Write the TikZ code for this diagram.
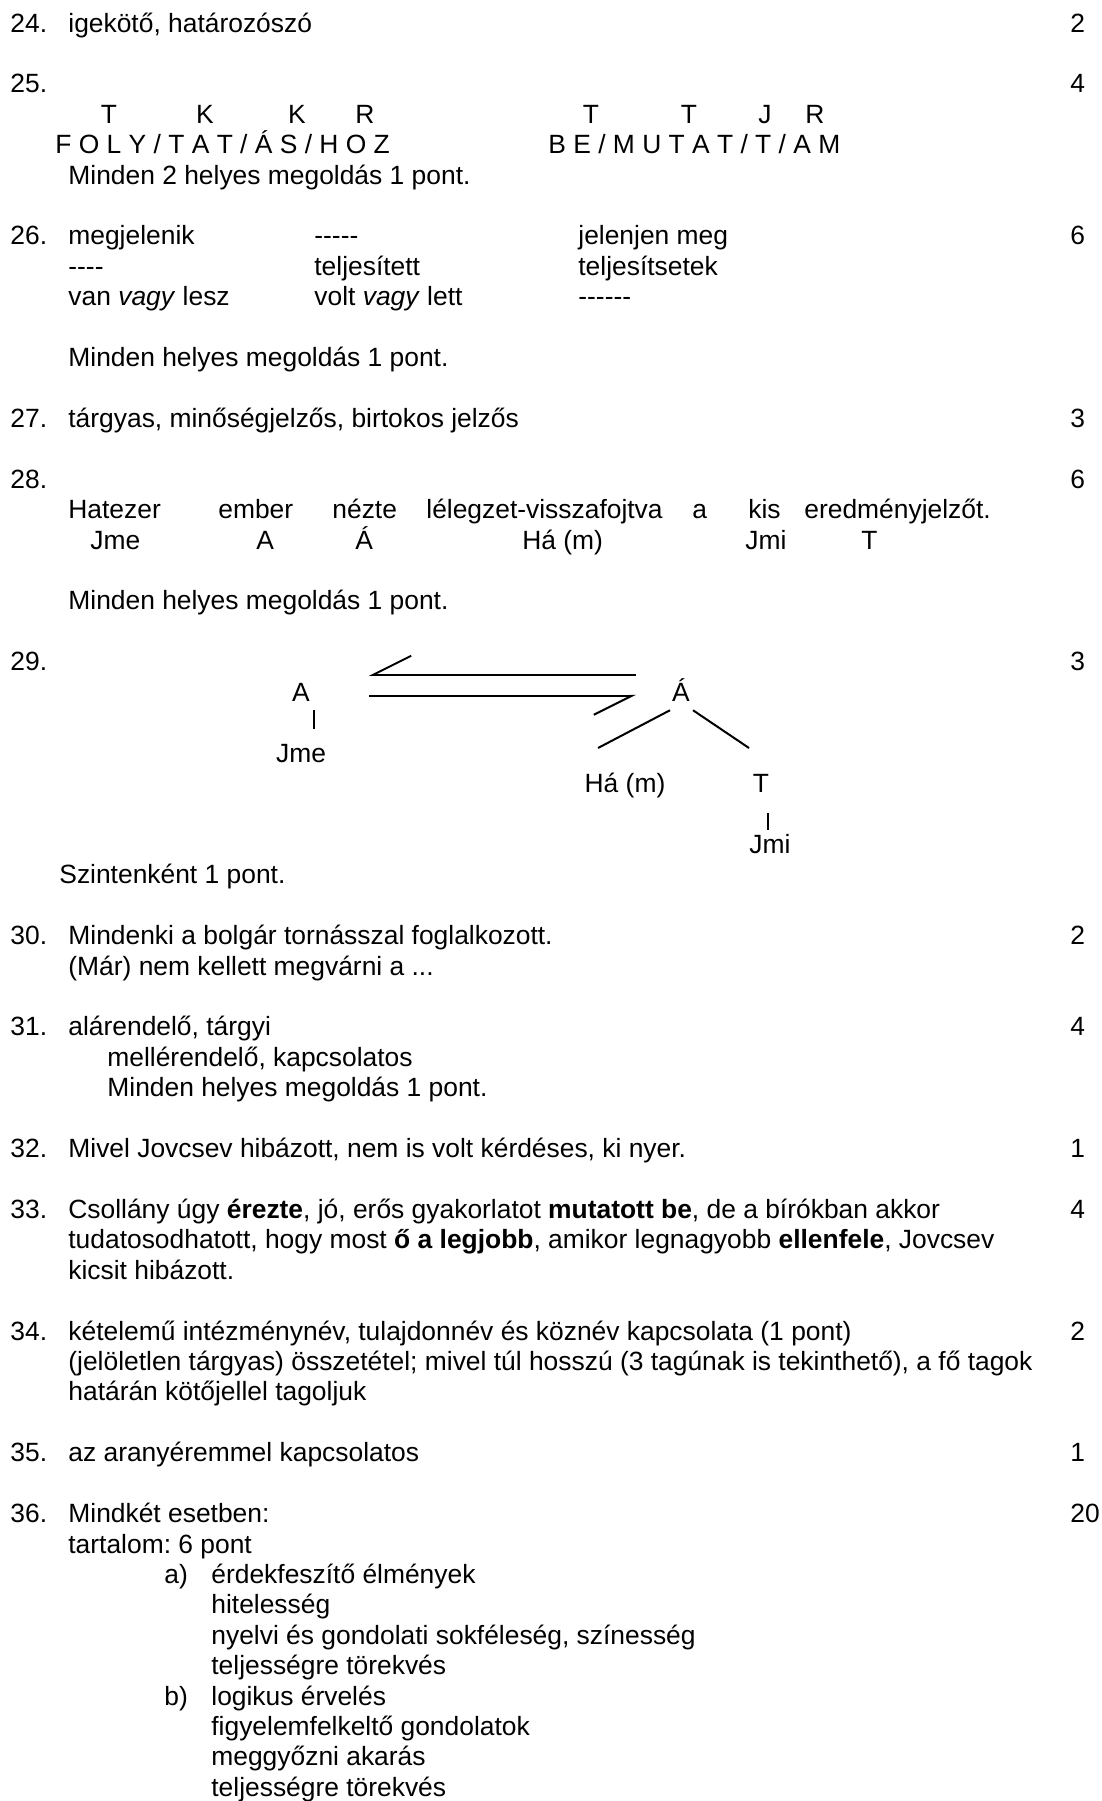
\documentclass[tikz,border=0pt]{standalone}
\usepackage{fontspec}
\setmainfont{Liberation Sans}
\usetikzlibrary{arrows.meta}
\frenchspacing
\tikzset{
x=0.5pt, y=-0.5pt, % one unit is one pixel of the page, y runs downwards
every node/.style={inner sep=0pt, font=\fontsize{13.2}{15.8}\selectfont}, % plain text everywhere
txt/.style={anchor=base west}, % text set from its left end on the baseline
lbl/.style={anchor=base}, % centred labels (grammar marks)
branch/.style={line width=1pt}, % lines of the sentence tree
harpoon/.style={line width=1pt, -{Straight Barb[right, length=19pt, width=19pt]}}, % half arrow
}
\def\lh{30.42}

\begin{document}
\begin{tikzpicture}
            \useasboundingbox (0,0) rectangle (1102,1801);
            % 24
            \node[txt] (n24) at (10,32) {24.};
            \node[txt] (a24) at (68,32) {igekötő, határozószó};
            \node[txt] (p24) at (1070,32) {2};
            % 25
            \node[txt] (n25) at (10,32+2*\lh) {25.};
            \node[txt] (p25) at (1070,32+2*\lh) {4};
            \node[lbl] (foT) at (109,32+3*\lh) {T};
            \node[lbl] (foK1) at (205,32+3*\lh) {K};
            \node[lbl] (foK2) at (297,32+3*\lh) {K};
            \node[lbl] (foR) at (365,32+3*\lh) {R};
            \node[lbl] (beT1) at (591,32+3*\lh) {T};
            \node[lbl] (beT2) at (689,32+3*\lh) {T};
            \node[lbl] (beJ) at (765,32+3*\lh) {J};
            \node[lbl] (beR) at (815,32+3*\lh) {R};
            \node[txt] (foly) at (55,32+4*\lh) {F O L Y / T A T / Á S / H O Z};
            \node[txt] (bemutat) at (548,32+4*\lh) {B E / M U T A T / T / A M};
            \node[txt] (m25) at (68,32+5*\lh) {Minden 2 helyes megoldás 1 pont.};
            % 26
            \node[txt] (n26) at (10,32+7*\lh) {26.};
            \node[txt] (p26) at (1070,32+7*\lh) {6};
            \node[txt] (a26) at (68,32+7*\lh) {megjelenik};
            \node[txt] (b26) at (314,32+7*\lh) {-{}-{}-{}-{}-};
            \node[txt] (c26) at (578,32+7*\lh) {jelenjen meg};
            \node[txt] (d26) at (68,32+8*\lh) {-{}-{}-{}-};
            \node[txt] (e26) at (314,32+8*\lh) {teljesített};
            \node[txt] (f26) at (578,32+8*\lh) {teljesítsetek};
            \node[txt] (g26) at (68,32+9*\lh) {van \textit{vagy} lesz};
            \node[txt] (h26) at (314,32+9*\lh) {volt \textit{vagy} lett};
            \node[txt] (i26) at (578,32+9*\lh) {-{}-{}-{}-{}-{}-};
            \node[txt] (m26) at (68,32+11*\lh) {Minden helyes megoldás 1 pont.};
            % 27
            \node[txt] (n27) at (10,32+13*\lh) {27.};
            \node[txt] (a27) at (68,32+13*\lh) {tárgyas, minőségjelzős, birtokos jelzős};
            \node[txt] (p27) at (1070,32+13*\lh) {3};
            % 28
            \node[txt] (n28) at (10,32+15*\lh) {28.};
            \node[txt] (p28) at (1070,32+15*\lh) {6};
            \node[txt] (w1) at (68,32+16*\lh) {Hatezer};
            \node[txt] (w2) at (218,32+16*\lh) {ember};
            \node[txt] (w3) at (332,32+16*\lh) {nézte};
            \node[txt] (w4) at (426,32+16*\lh) {lélegzet-visszafojtva};
            \node[txt] (w5) at (692,32+16*\lh) {a};
            \node[txt] (w6) at (748,32+16*\lh) {kis};
            \node[txt] (w7) at (804,32+16*\lh) {eredményjelzőt.};
            \node[txt] (r1) at (90,32+17*\lh) {Jme};
            \node[txt] (r2) at (256,32+17*\lh) {A};
            \node[txt] (r3) at (355,32+17*\lh) {Á};
            \node[txt] (r4) at (522,32+17*\lh) {Há (m)};
            \node[txt] (r5) at (745,32+17*\lh) {Jmi};
            \node[txt] (r6) at (861,32+17*\lh) {T};
            \node[txt] (m28) at (68,32+19*\lh) {Minden helyes megoldás 1 pont.};
            % 29
            \node[txt] (n29) at (10,32+21*\lh) {29.};
            \node[txt] (p29) at (1070,32+21*\lh) {3};
            \node[lbl] (A) at (301,32+22*\lh) {A};
            \node[lbl] (AA) at (681,32+22*\lh) {Á};
            \node[lbl] (Jme) at (301,32+24*\lh) {Jme};
            \node[lbl] (Ha) at (625,32+25*\lh) {Há (m)};
            \node[lbl] (T) at (761,32+25*\lh) {T};
            \node[lbl] (Jmi) at (770,32+27*\lh) {Jmi};
            \draw[harpoon] ([shift={(-45,-26.5)}]AA.base) -- ([shift={(68,-26.5)}]A.base);
            \draw[harpoon] ([shift={(68,-5.5)}]A.base) -- ([shift={(-45,-5.5)}]AA.base);
            \draw[branch] ([shift={(13,9)}]A.base) -- ([shift={(13,-33)}]Jme.base);
            \draw[branch] ([shift={(-11,9)}]AA.base) -- ([shift={(-27,-44.5)}]Ha.base);
            \draw[branch] ([shift={(12,9)}]AA.base) -- ([shift={(-12,-44.5)}]T.base);
            \draw[branch] ([shift={(7,20.5)}]T.base) -- ([shift={(-2,-23.3)}]Jmi.base);
            \node[txt] (m29) at (59,32+28*\lh) {Szintenként 1 pont.};
            % 30
            \node[txt] (n30) at (10,32+30*\lh) {30.};
            \node[txt] (p30) at (1070,32+30*\lh) {2};
            \node[txt] (a30) at (68,32+30*\lh) {Mindenki a bolgár tornásszal foglalkozott.};
            \node[txt] (b30) at (68,32+31*\lh) {(Már) nem kellett megvárni a ...};
            % 31
            \node[txt] (n31) at (10,32+33*\lh) {31.};
            \node[txt] (p31) at (1070,32+33*\lh) {4};
            \node[txt] (a31) at (68,32+33*\lh) {alárendelő, tárgyi};
            \node[txt] (b31) at (107,32+34*\lh) {mellérendelő, kapcsolatos};
            \node[txt] (m31) at (107,32+35*\lh) {Minden helyes megoldás 1 pont.};
            % 32
            \node[txt] (n32) at (10,32+37*\lh) {32.};
            \node[txt] (p32) at (1070,32+37*\lh) {1};
            \node[txt] (a32) at (68,32+37*\lh) {Mivel Jovcsev hibázott, nem is volt kérdéses, ki nyer.};
            % 33
            \node[txt] (n33) at (10,32+39*\lh) {33.};
            \node[txt] (p33) at (1070,32+39*\lh) {4};
            \node[txt] (a33) at (68,32+39*\lh) {Csollány úgy \textbf{érezte}, jó, erős gyakorlatot \textbf{mutatott be}, de a bírókban akkor};
            \node[txt] (b33) at (68,32+40*\lh) {tudatosodhatott, hogy most \textbf{ő a legjobb}, amikor legnagyobb \textbf{ellenfele}, Jovcsev};
            \node[txt] (c33) at (68,32+41*\lh) {kicsit hibázott.};
            % 34
            \node[txt] (n34) at (10,32+43*\lh) {34.};
            \node[txt] (p34) at (1070,32+43*\lh) {2};
            \node[txt] (a34) at (68,32+43*\lh) {kételemű intézménynév, tulajdonnév és köznév kapcsolata (1 pont)};
            \node[txt] (b34) at (68,32+44*\lh) {(jelöletlen tárgyas) összetétel; mivel túl hosszú (3 tagúnak is tekinthető), a fő tagok};
            \node[txt] (c34) at (68,32+45*\lh) {határán kötőjellel tagoljuk};
            % 35
            \node[txt] (n35) at (10,32+47*\lh) {35.};
            \node[txt] (p35) at (1070,32+47*\lh) {1};
            \node[txt] (a35) at (68,32+47*\lh) {az aranyéremmel kapcsolatos};
            % 36
            \node[txt] (n36) at (10,32+49*\lh) {36.};
            \node[txt] (p36) at (1070,32+49*\lh) {20};
            \node[txt] (a36) at (68,32+49*\lh) {Mindkét esetben:};
            \node[txt] (b36) at (68,32+50*\lh) {tartalom: 6 pont};
            \node[txt] (ka) at (164,32+51*\lh) {a)};
            \node[txt] (ka1) at (211,32+51*\lh) {érdekfeszítő élmények};
            \node[txt] (ka2) at (211,32+52*\lh) {hitelesség};
            \node[txt] (ka3) at (211,32+53*\lh) {nyelvi és gondolati sokféleség, színesség};
            \node[txt] (ka4) at (211,32+54*\lh) {teljességre törekvés};
            \node[txt] (kb) at (164,32+55*\lh) {b)};
            \node[txt] (kb1) at (211,32+55*\lh) {logikus érvelés};
            \node[txt] (kb2) at (211,32+56*\lh) {figyelemfelkeltő gondolatok};
            \node[txt] (kb3) at (211,32+57*\lh) {meggyőzni akarás};
            \node[txt] (kb4) at (211,32+58*\lh) {teljességre törekvés};
\end{tikzpicture}
\end{document}
